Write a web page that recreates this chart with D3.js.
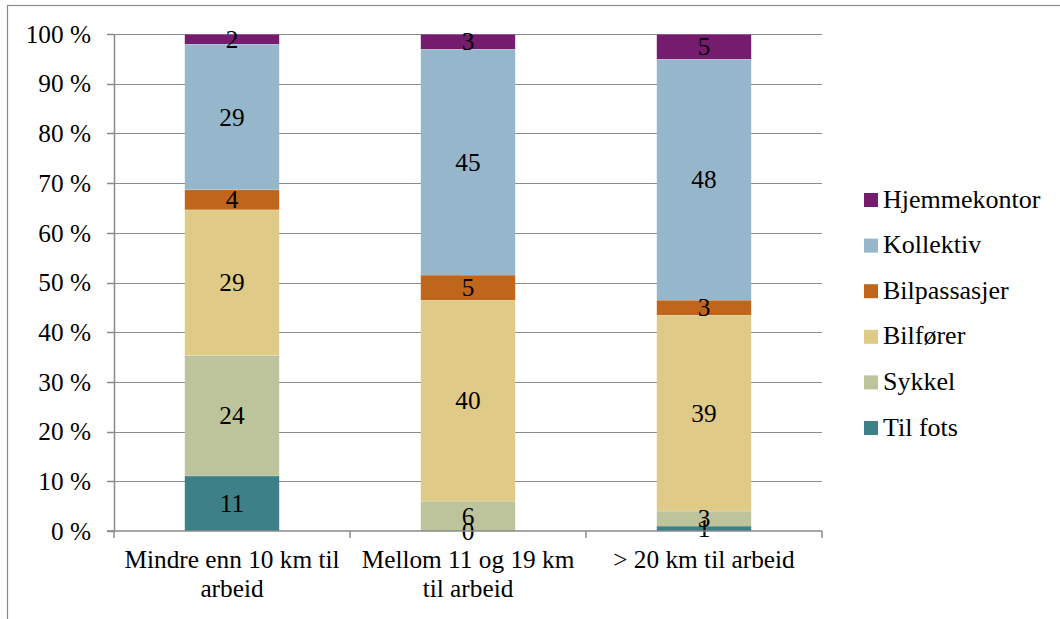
<!DOCTYPE html>
<html>
<head>
<meta charset="utf-8">
<script src="https://cdn.jsdelivr.net/npm/d3@7"></script>
<style>
  html, body { margin: 0; padding: 0; background: #fff; }
  svg { display: block; }
</style>
</head>
<body>
<svg id="chart" width="1060" height="619"></svg>
<script>
// Travel mode to work by distance (percent, rounded)
const categories = [
  ["Mindre enn 10 km til", "arbeid"],
  ["Mellom 11 og 19 km", "til arbeid"],
  ["> 20 km til arbeid"]
];
const seriesNames = ["Til fots", "Sykkel", "Bilfører", "Bilpassasjer", "Kollektiv", "Hjemmekontor"];
const tilFots      = [11, 0, 1];
const sykkel       = [24, 6, 3];
const bilforer     = [29, 40, 39];
const bilpassasjer = [4, 5, 3];
const kollektiv    = [29, 45, 48];
const hjemmekontor = [2, 3, 5];
const yTicks = [0, 0.1, 0.2, 0.3, 0.4, 0.5, 0.6, 0.7, 0.8, 0.9, 1.0];

const colors = ["#3e8088", "#bdc39b", "#dfca87", "#c0661c", "#96b7cb", "#761c6f"];
const seriesValues = [tilFots, sykkel, bilforer, bilpassasjer, kollektiv, hjemmekontor];

const FONT = "Liberation Serif";
const FS = 25.3;
const LEGEND_FS = 26;

const rows = categories.map((c, i) => {
  const r = { key: i };
  seriesNames.forEach((s, j) => { r[s] = seriesValues[j][i]; });
  return r;
});

const svg = d3.select("#chart");

// outer frame
svg.append("rect")
  .attr("x", 7.5).attr("y", 5.5).attr("width", 1200).attr("height", 800)
  .attr("fill", "none").attr("stroke", "#8a8a8a").attr("stroke-width", 1.2);

const plotLeft = 114, plotRight = 822, plotTop = 34, plotBottom = 531;

const x = d3.scaleBand().domain(d3.range(categories.length)).range([plotLeft, plotRight]).paddingInner(0).paddingOuter(0);
const y = d3.scaleLinear().domain([0, 1]).range([plotBottom, plotTop]);
const barW = x.bandwidth() / 2.5;

// gridlines
svg.append("g").selectAll("line").data(yTicks.slice(1)).join("line")
  .attr("x1", plotLeft).attr("x2", plotRight)
  .attr("y1", d => Math.round(y(d)) + 0.5).attr("y2", d => Math.round(y(d)) + 0.5)
  .attr("stroke", "#8c8c8c").attr("stroke-width", 1.2);

const stack = d3.stack().keys(seriesNames).offset(d3.stackOffsetExpand);
const stacked = stack(rows);

const groups = svg.append("g").selectAll("g").data(stacked).join("g")
  .attr("fill", (d, i) => colors[i]);

groups.selectAll("rect").data(d => d).join("rect")
  .attr("x", (d, i) => x(i) + (x.bandwidth() - barW) / 2)
  .attr("width", barW)
  .attr("y", d => y(d[1]))
  .attr("height", d => y(d[0]) - y(d[1]));

// thin white separators between segments
groups.selectAll("line").data(d => d).join("line")
  .attr("x1", (d, i) => x(i) + (x.bandwidth() - barW) / 2)
  .attr("x2", (d, i) => x(i) + (x.bandwidth() + barW) / 2)
  .attr("y1", d => y(d[1])).attr("y2", d => y(d[1]))
  .attr("stroke", "#fff").attr("stroke-opacity", 0.5).attr("stroke-width", 1);

// value labels, centred in each segment
const labels = svg.append("g");
stacked.forEach((s, j) => {
  s.forEach((d, i) => {
    labels.append("text")
      .attr("x", x(i) + x.bandwidth() / 2)
      .attr("y", y((d[0] + d[1]) / 2) + 8.7)
      .attr("text-anchor", "middle")
      .attr("font-size", FS)
      .style("font-family", FONT)
      .attr("fill", "#000")
      .text(seriesValues[j][i]);
  });
});

// axes
const axisColor = "#8a8a8a";
svg.append("line").attr("x1", plotLeft + 0.5).attr("x2", plotLeft + 0.5).attr("y1", plotTop).attr("y2", plotBottom)
  .attr("stroke", axisColor).attr("stroke-width", 1.5);
svg.append("line").attr("x1", plotLeft - 7).attr("x2", plotRight).attr("y1", plotBottom).attr("y2", plotBottom)
  .attr("stroke", axisColor).attr("stroke-width", 1.5);

// y ticks
svg.append("g").selectAll("line").data(yTicks).join("line")
  .attr("x1", plotLeft - 7).attr("x2", plotLeft)
  .attr("y1", d => Math.round(y(d)) + 0.5).attr("y2", d => Math.round(y(d)) + 0.5)
  .attr("stroke", axisColor).attr("stroke-width", 1.5);
svg.append("g").selectAll("text").data(yTicks).join("text")
  .attr("x", 91).attr("y", d => y(d) + 8.7)
  .attr("text-anchor", "end").attr("font-size", FS)
  .style("font-family", FONT)
  .text(d => Math.round(d * 100) + " %");

// x category boundary ticks
const bounds = d3.range(categories.length + 1).map(i => plotLeft + i * x.bandwidth());
svg.append("g").selectAll("line").data(bounds).join("line")
  .attr("x1", d => d).attr("x2", d => d)
  .attr("y1", plotBottom).attr("y2", plotBottom + 7)
  .attr("stroke", axisColor).attr("stroke-width", 1.5);

// category labels
categories.forEach((lines, i) => {
  const t = svg.append("text")
    .attr("x", x(i) + x.bandwidth() / 2).attr("y", 568)
    .attr("text-anchor", "middle").attr("font-size", FS)
    .style("font-family", FONT);
  lines.forEach((ln, k) => {
    t.append("tspan").attr("x", x(i) + x.bandwidth() / 2).attr("dy", k === 0 ? 0 : 29).text(ln);
  });
});

// legend
const legendOrder = seriesNames.slice().reverse();
const legend = svg.append("g").selectAll("g").data(legendOrder).join("g")
  .attr("transform", (d, i) => `translate(864, ${200 + i * 45.6})`);
legend.append("rect")
  .attr("x", 0).attr("y", -7).attr("width", 14).attr("height", 14)
  .attr("fill", d => colors[seriesNames.indexOf(d)]);
legend.append("text")
  .attr("x", 19).attr("y", 7.5).attr("font-size", LEGEND_FS)
  .style("font-family", FONT)
  .text(d => d);
</script>
</body>
</html>
